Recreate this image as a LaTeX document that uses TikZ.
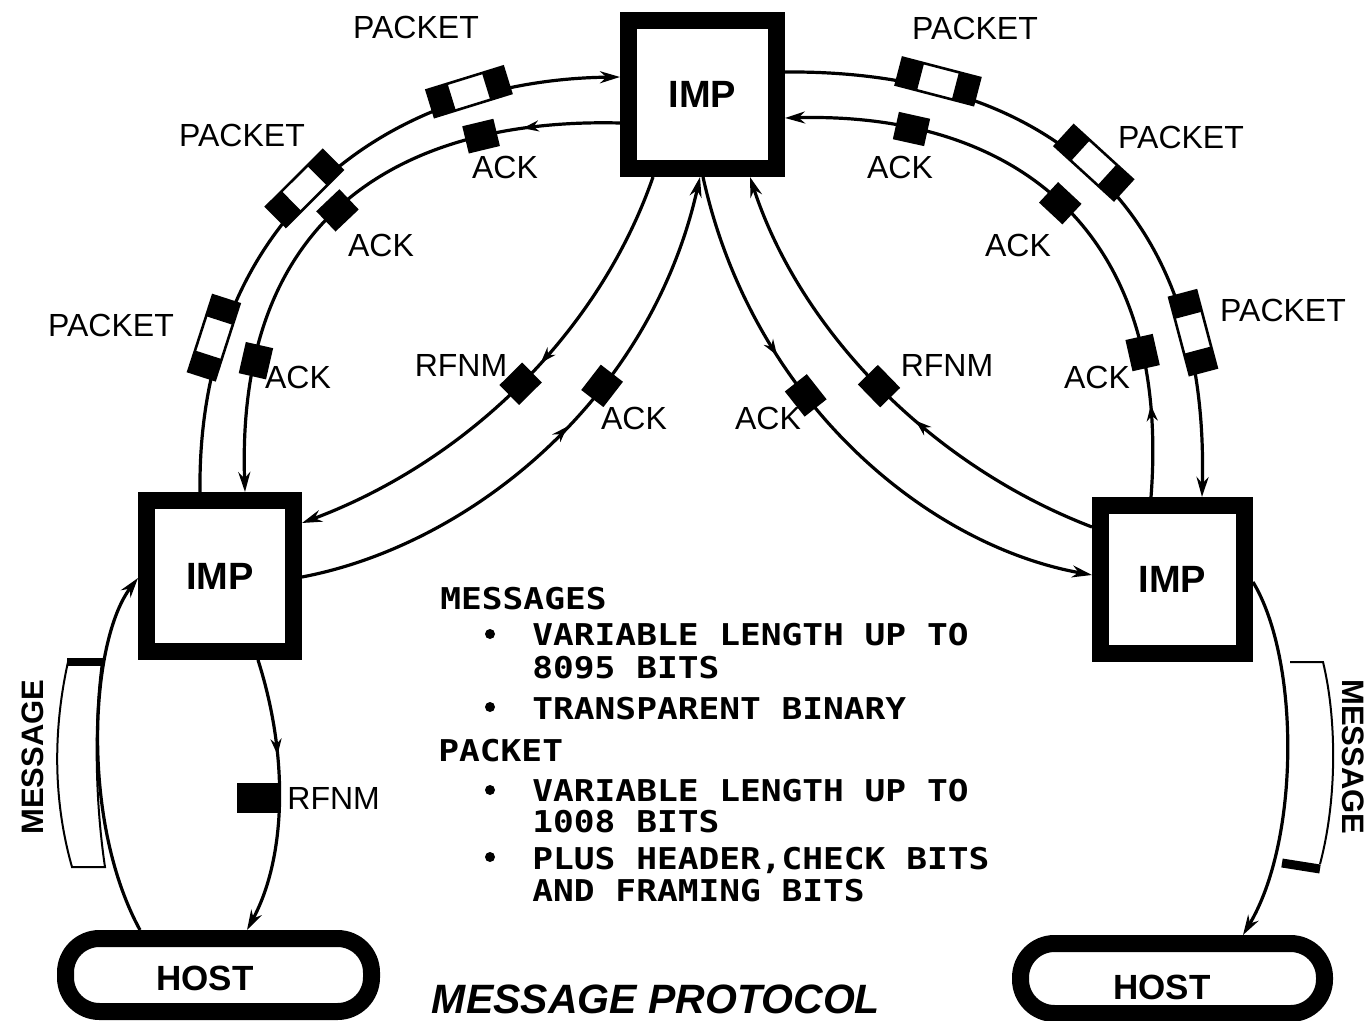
\documentclass[tikz,border=0pt]{standalone}
\usepackage{fontspec}
\setmainfont{Liberation Sans}
\newfontfamily\infomono[FakeStretch=1.15]{DejaVu Sans Mono}
\usetikzlibrary{calc,arrows.meta,decorations.markings}
\newcommand\pktparts{\rule{11pt}{14pt}\hspace*{18pt}\rule{11pt}{14pt}}
\begin{document}
\begin{tikzpicture}[x=0.5pt,y=-0.5pt]
\tikzset{
  lnk/.style={line width=1.6pt},
  endarr/.style={-{Stealth[length=10pt,width=6pt]}},
  midarr/.style={postaction={decorate,decoration={markings,mark=at position #1 with {\arrow{Stealth[length=8pt,width=5.5pt]}}}}},
  imp/.style={draw,line width=8.5pt,inner sep=0pt,font=\bfseries\fontsize{19pt}{21pt}\selectfont},
  hostbox/.style={draw,line width=8.5pt,rounded corners=17pt,inner sep=0pt},
  pkt/.style={draw,fill=white,line width=1.3pt,inner sep=0pt,outer sep=0pt,sloped,above=-3pt},
  blk/.style={fill=black,inner sep=0pt,sloped,minimum width=16pt,minimum height=14pt},
  lbl/.style={inner sep=0pt,font=\fontsize{16pt}{18pt}\selectfont},
  hostlbl/.style={inner sep=0pt,font=\bfseries\fontsize{17.5pt}{19pt}\selectfont},
  msglbl/.style={inner sep=0pt,font=\bfseries\fontsize{15.5pt}{17pt}\selectfont},
  info/.style={inner sep=0pt,anchor=base west,font=\infomono\bfseries\fontsize{15pt}{17pt}\selectfont},
  bul/.style={circle,fill=black,inner sep=0pt,minimum size=5pt},
  thinbox/.style={line width=1pt},
}
\fill[white] (0,0) rectangle (1369,1021);
\useasboundingbox (0,0) rectangle (1369,1021);

% IMPs and HOSTs
\node[imp,minimum width=74pt,minimum height=74pt] (timp) at (702.5,94.5) {IMP};
\node[imp,minimum width=73.5pt,minimum height=75.5pt] (limp) at (220,576) {IMP};
\node[imp,minimum width=72pt,minimum height=74pt] (rimp) at (1172.5,579.5) {IMP};
\node[hostbox,minimum width=153pt,minimum height=36.5pt] (lhost) at (218.5,975) {};
\node[hostbox,minimum width=152pt,minimum height=35pt] (rhost) at (1172.5,978.5) {};
\node[hostlbl] (lhostt) at (205,978) {HOST};
\node[hostlbl] (rhostt) at (1162,987) {HOST};

% left outer: packets left IMP -> top IMP
\draw[lnk,endarr] ($(limp.north west)+(62,0)$) .. controls (197,225) and (380,80) .. ($(timp.north west)+(0,65)$)
  node[pkt,pos=0.21] (pk1) {\pktparts} node[pkt,pos=0.48] (pk2) {\pktparts} node[pkt,pos=0.78] (pk3) {\pktparts};
% left inner: ACK top IMP -> left IMP
\draw[lnk,endarr,midarr=0.16] ($(timp.north west)+(0,111)$) .. controls (420,118) and (235,200) .. ($(limp.north west)+(107,0)$)
  node[blk,pos=0.24] (ak1) {} node[blk,pos=0.54] (ak2) {} node[blk,pos=0.83] (ak3) {};
% right outer: packets top IMP -> right IMP
\draw[lnk,endarr] ($(timp.north east)+(0,60)$) .. controls (1030,70) and (1210,190) .. ($(rimp.north west)+(110,0)$)
  node[pkt,pos=0.22] (pk4) {\pktparts} node[pkt,pos=0.5] (pk5) {\pktparts} node[pkt,pos=0.8] (pk6) {\pktparts};
% right inner: ACK right IMP -> top IMP
\draw[lnk,endarr,midarr=0.15] ($(rimp.north west)+(59,0)$) .. controls (1172,225) and (1010,112) .. ($(timp.north east)+(0,106)$)
  node[blk,pos=0.2] (ak4) {} node[blk,pos=0.5] (ak5) {} node[blk,pos=0.8] (ak6) {};

% middle connectors
\draw[lnk,endarr,midarr=0.43] ($(timp.south west)+(33,0)$) .. controls (600,330) and (470,460) .. ($(limp.north east)+(0,31)$)
  node[blk,pos=0.5] (rf1) {};
\draw[lnk,endarr,midarr=0.52] ($(limp.north east)+(0,85)$) .. controls (470,545) and (650,400) .. ($(timp.south west)+(80,0)$)
  node[blk,pos=0.64] (ak7) {};
\draw[lnk,endarr,midarr=0.33] ($(timp.south west)+(83,0)$) .. controls (752,400) and (926,545) .. ($(rimp.north west)+(0,78)$)
  node[blk,pos=0.38] (ak8) {};
\draw[lnk,endarr,midarr=0.41] ($(rimp.north west)+(0,30)$) .. controls (930,465) and (800,330) .. ($(timp.south west)+(130,0)$)
  node[blk,pos=0.5] (rf2) {};

% host links
\draw[lnk,endarr] ($(lhost.north west)+(83,0)$) .. controls (80,820) and (90,640) .. ($(limp.north west)+(0,86)$);
\draw[lnk,endarr,midarr=0.35] ($(limp.south west)+(120,0)$) .. controls (290,760) and (285,860) .. ($(lhost.north west)+(190,0)$);
\node[fill=black,inner sep=0pt,minimum width=21.5pt,minimum height=15pt] (rf3) at (258.5,798) {};
\draw[lnk,endarr] ($(rimp.north east)+(0,85)$) .. controls (1300,660) and (1300,840) .. ($(rhost.north west)+(231,0)$);

% message boxes
\draw[thinbox] (102,662) -- (68,662) .. controls (53,730) and (53,800) .. (72,867) -- (105,867) .. controls (95,800) and (94,720) .. cycle;
\draw[line width=4pt] (67,662) -- (104,662);
\draw[thinbox] (1290,662) -- (1323,662) .. controls (1337,720) and (1337,800) .. (1320,864);
\draw[line width=4.5pt] (1282,863) -- (1320,869);
\node[msglbl,rotate=90] (msgl) at (33,757) {MESSAGE};
\node[msglbl,rotate=-90] (msgr) at (1353,757) {MESSAGE};

% labels
\node[lbl] (lp1) at (416,27) {PACKET};
\node[lbl] (lp2) at (242,135) {PACKET};
\node[lbl] (lp3) at (111,325) {PACKET};
\node[lbl] (lp4) at (975,28) {PACKET};
\node[lbl] (lp5) at (1181,137) {PACKET};
\node[lbl] (lp6) at (1283,310) {PACKET};
\node[lbl] (la1) at (505,167) {ACK};
\node[lbl] (la2) at (381,245) {ACK};
\node[lbl] (la3) at (298,377) {ACK};
\node[lbl] (la4) at (900,167) {ACK};
\node[lbl] (la5) at (1018,245) {ACK};
\node[lbl] (la6) at (1097,377) {ACK};
\node[lbl] (la7) at (634,418) {ACK};
\node[lbl] (la8) at (768,418) {ACK};
\node[lbl] (lr1) at (461,365) {RFNM};
\node[lbl] (lr2) at (947,365) {RFNM};
\node[lbl,anchor=west] (lr3) at (287,798) {RFNM};

% text block
\node[info] (t1) at (440,609) {MESSAGES};
\node[bul] (b1) at (490,634) {};
\node[info] (t2) at (532,645) {VARIABLE LENGTH UP TO};
\node[info] (t3) at (532,678) {8095 BITS};
\node[bul] (b2) at (490,707) {};
\node[info] (t4) at (532,719) {TRANSPARENT BINARY};
\node[info] (t5) at (438,761) {PACKET};
\node[bul] (b3) at (490,790) {};
\node[info] (t6) at (532,801) {VARIABLE LENGTH UP TO};
\node[info] (t7) at (532,832) {1008 BITS};
\node[bul] (b4) at (490,857) {};
\node[info] (t8) at (532,869) {PLUS HEADER,CHECK BITS};
\node[info] (t9) at (532,901) {AND FRAMING BITS};
\node[inner sep=0pt,font=\bfseries\itshape\fontsize{20.5pt}{22pt}\selectfont] (title) at (656,999) {MESSAGE PROTOCOL};
\end{tikzpicture}
\end{document}
